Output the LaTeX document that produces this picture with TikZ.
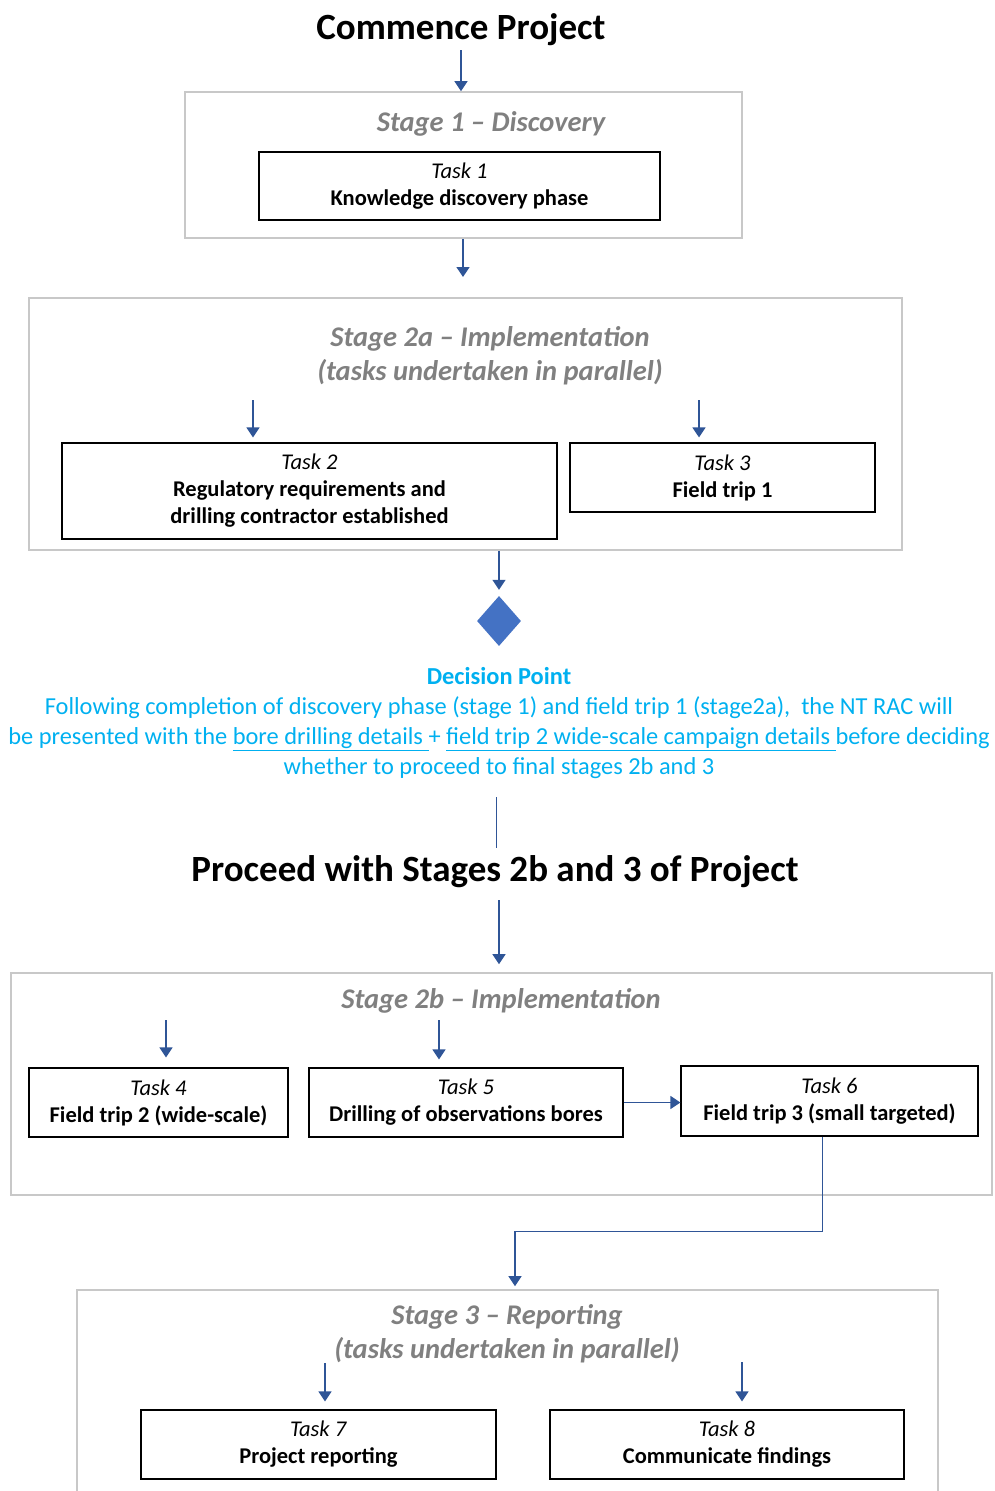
\documentclass[tikz,border=0pt]{standalone}
\usepackage{fontspec}
\setmainfont{Carlito}
\usetikzlibrary{arrows.meta, shapes.geometric}
\definecolor{arrowblue}{RGB}{47,85,151}
\definecolor{diamondblue}{RGB}{68,114,196}
\definecolor{decisioncyan}{RGB}{0,176,240}
\definecolor{stagegray}{RGB}{128,128,128}
\definecolor{stageline}{RGB}{200,200,200}

\begin{document}
\begin{tikzpicture}[x = 1pt, y = -1pt,
    stagebox/.style = {draw = stageline, line width = 1.6pt, inner sep = 0, minimum width = #1},
    taskbox/.style = {draw = black, line width = 1.2pt, align = center, inner sep = 0,
        minimum width = #1, font = \fontsize{22.5}{27}\selectfont},
    stagetitle/.style = {text = stagegray, align = center, inner sep = 0,
        font = \fontsize{28.5}{34}\selectfont\bfseries\itshape},
    heading/.style = {inner sep = 0, font = \fontsize{37}{44}\selectfont\bfseries},
    arr/.style = {draw = arrowblue, line width = 1.4pt, -{Triangle[width = 13pt, length = 10pt]}},
    link/.style = {draw = arrowblue, line width = 1pt}
]
    \useasboundingbox (0, 0) rectangle (994, 1491);
    \clip (0, 0) rectangle (994, 1491);

    \node [heading] (commence) at (461, 30) {Commence Project};

    \node [stagebox = 557, minimum height = 146] (stg1) at (463.5, 165) {};
    \node [stagetitle] (stg1title) at (491, 124) {Stage 1 -- Discovery};
    \node [taskbox = 401, minimum height = 68] (t1) at (459.5, 186)
        {\textit{Task 1}\\\textbf{Knowledge discovery phase}};

    \node [stagebox = 873, minimum height = 252] (stg2a) at (465.5, 424) {};
    \node [stagetitle] (stg2atitle) at (490, 356)
        {Stage 2a -- Implementation\\(tasks undertaken in parallel)};
    \node [taskbox = 495, minimum height = 96] (t2) at (309.5, 491)
        {\textit{Task 2}\\\textbf{Regulatory requirements and}\\\textbf{drilling contractor established}};
    \node [taskbox = 305, minimum height = 69] (t3) at (722.5, 477.5)
        {\textit{Task 3}\\\textbf{Field trip 1}};

    \node [diamond, fill = diamondblue, inner sep = 0, minimum width = 44, minimum height = 50] (dp) at (499, 621) {};
    \node [text = decisioncyan, align = center, inner sep = 0, font = \fontsize{24.4}{30}\selectfont] (dtext) at (499, 723.5)
        {\textbf{Decision Point}\\
        Following completion of discovery phase (stage 1) and field trip 1 (stage2a),\ \ the NT RAC will\\
        be presented with the \underline{bore drilling details\ }+ \underline{field trip 2 wide-scale campaign details\ }before deciding\\
        whether to proceed to final stages 2b and 3};

    \node [heading] (proceed) at (495, 872) {Proceed with Stages 2b and 3 of Project};

    \node [stagebox = 981, minimum height = 222] (stg2b) at (501.5, 1084) {};
    \node [stagetitle] (stg2btitle) at (501, 1001) {Stage 2b -- Implementation};
    \node [taskbox = 259, minimum height = 69] (t4) at (158.5, 1102.5)
        {\textit{Task 4}\\\textbf{Field trip 2 (wide-scale)}};
    \node [taskbox = 314, minimum height = 69] (t5) at (466, 1102.5)
        {\textit{Task 5}\\\textbf{Drilling of observations bores}};
    \node [taskbox = 297, minimum height = 70] (t6) at (829.5, 1101)
        {\textit{Task 6}\\\textbf{Field trip 3 (small targeted)}};

    \node [stagebox = 861, minimum height = 260] (stg3) at (507.5, 1420) {};
    \node [stagetitle] (stg3title) at (507, 1334)
        {Stage 3 -- Reporting\\(tasks undertaken in parallel)};
    \node [taskbox = 355, minimum height = 69] (t7) at (318.5, 1444.5)
        {\textit{Task 7}\\\textbf{Project reporting}};
    \node [taskbox = 354, minimum height = 69] (t8) at (727, 1444.5)
        {\textit{Task 8}\\\textbf{Communicate findings}};

    \coordinate (in1) at (461, 50);
    \coordinate (out1) at (463, 277);
    \coordinate (in2) at (253, 400);
    \coordinate (in3) at (699, 400);
    \coordinate (go) at (496, 797);
    \coordinate (in2b) at (499, 900);
    \coordinate (in4) at (166, 1020);
    \coordinate (in5) at (439, 1020);
    \coordinate (turn) at (515, 1231);
    \coordinate (in7) at (325, 1363);
    \coordinate (in8) at (742, 1362);

    \draw [arr] (in1) -- (in1 |- stg1.north);
    \draw [arr] (stg1.south -| out1) -- (out1);
    \draw [arr, shorten > = 5pt] (in2) -- (in2 |- t2.north);
    \draw [arr, shorten > = 5pt] (in3) -- (in3 |- t3.north);
    \draw [arr, shorten > = 6pt] (stg2a.south -| dp) -- (dp.north);
    \draw [link] (go) -- ++(0, 51);
    \draw [arr, shorten > = 8pt] (in2b) -- (in2b |- stg2b.north);
    \draw [arr, shorten > = 10pt] (in4) -- (in4 |- t4.north);
    \draw [arr, shorten > = 8pt] (in5) -- (in5 |- t5.north);
    \draw [arr] (t5.east) -- (t5.east -| t6.west);
    \draw [link] ([xshift = -7pt]t6.south) |- (turn);
    \draw [arr, shorten > = 3pt] (turn) -- (turn |- stg3.north);
    \draw [arr, shorten > = 8pt] (in7) -- (in7 |- t7.north);
    \draw [arr, shorten > = 8pt] (in8) -- (in8 |- t8.north);
\end{tikzpicture}
\end{document}
